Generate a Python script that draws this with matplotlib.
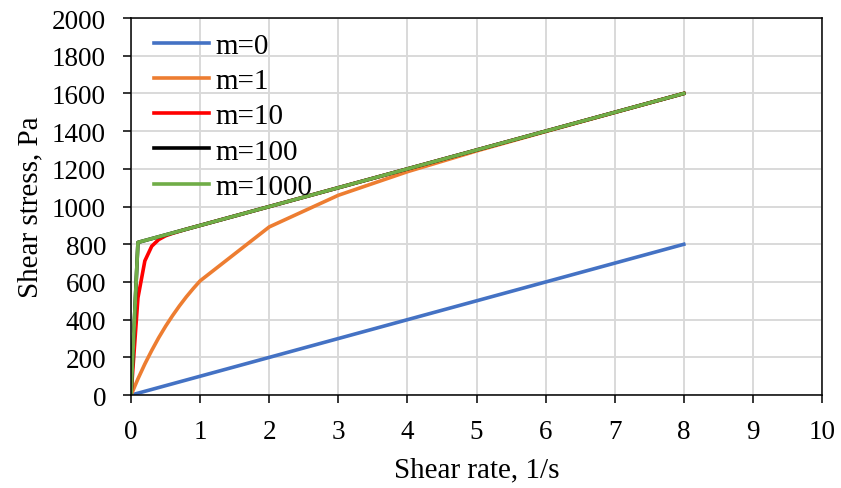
import matplotlib.pyplot as plt

# Shear rate points (1/s)
rate = [0, 0.1, 0.2, 0.3, 0.4, 0.5, 0.6, 0.7, 0.8, 0.9, 1, 2, 3, 4, 5, 6, 7, 8]

# Shear stress (Pa) for each regularisation parameter m
m0 = [0, 10, 20, 30, 40, 50, 60, 70, 80, 90, 100, 200, 300, 400, 500, 600, 700, 800]
m1 = [0, 86, 165, 237, 304, 365, 421, 473, 521, 565, 606, 892, 1060, 1185, 1295, 1398, 1499, 1600]
m10 = [0, 516, 712, 790, 825, 845, 858, 869, 880, 890, 900, 1000, 1100, 1200, 1300, 1400, 1500, 1600]
m100 = [0, 810, 820, 830, 840, 850, 860, 870, 880, 890, 900, 1000, 1100, 1200, 1300, 1400, 1500, 1600]
m1000 = [0, 810, 820, 830, 840, 850, 860, 870, 880, 890, 900, 1000, 1100, 1200, 1300, 1400, 1500, 1600]

labels = ["m=0", "m=1", "m=10", "m=100", "m=1000"]
colors = ["#4472C4", "#ED7D31", "#FF0000", "#000000", "#70AD47"]

plt.rcParams['font.family'] = ['Liberation Serif', 'DejaVu Serif']

fig = plt.figure(figsize=(8.41, 4.89), dpi=100)
ax = fig.add_axes([0.1558, 0.19, 0.8216, 0.771])

for ys, lab, c in zip([m0, m1, m10, m100, m1000], labels, colors):
    ax.plot(rate, ys, color=c, linewidth=2.6, label=lab, solid_joinstyle='round')

ax.set_xlim(0, 10)
ax.set_ylim(0, 2000)
ax.set_xticks(range(0, 11))
ax.set_yticks(range(0, 2001, 200))
ax.grid(True, color='#d9d9d9', linewidth=1.4)
ax.set_axisbelow(True)
for s in ax.spines.values():
    s.set_linewidth(1.1)
ax.tick_params(labelsize=19.5, width=1.1, length=6)
ax.tick_params(axis='x', pad=11)
ax.tick_params(axis='y', pad=12)

ax.set_xlabel("Shear rate, 1/s", fontsize=21, labelpad=9)
ax.set_ylabel("Shear stress, Pa", fontsize=21, labelpad=6)

ax.legend(loc='upper left', frameon=False, fontsize=21, handlelength=1.9,
          handletextpad=0.2, labelspacing=0.3, borderaxespad=0.2,
          borderpad=0.3, bbox_to_anchor=(0.012, 1.0))

fig.savefig("out.png", dpi=100)
